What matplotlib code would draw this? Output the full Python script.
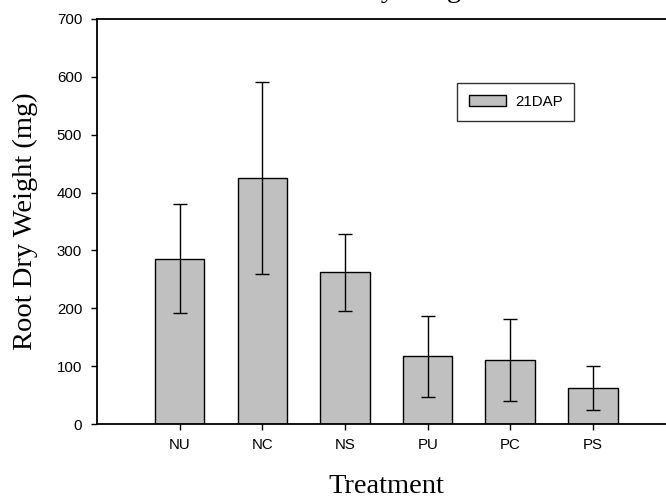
import matplotlib
matplotlib.use("Agg")
import matplotlib.pyplot as plt
import numpy as np

categories = ["NU", "NC", "NS", "PU", "PC", "PS"]
values = [286, 425, 262, 117, 111, 62]
errors = [94, 166, 67, 70, 71, 38]
series_label = "21DAP"
yticks = [0, 100, 200, 300, 400, 500, 600, 700]

W, H = 666, 499
fig = plt.figure(figsize=(W / 100, H / 100), dpi=100)

left, right, top, bottom = 97, 675.6, 19, 424
ax = fig.add_axes([left / W, (H - bottom) / H, (right - left) / W, (bottom - top) / H])

x = np.arange(len(categories))
ax.bar(x, values, width=0.6, color="#c0c0c0", edgecolor="black",
       linewidth=1.0, label=series_label, zorder=2)
ax.errorbar(x, values, yerr=errors, fmt="none", ecolor="black",
            elinewidth=1.0, capsize=5, capthick=1.0, zorder=3)

ax.set_xlim(-1.0, 6.0)
ax.set_ylim(0, 700)
ax.set_yticks(yticks)
ax.set_xticks(x)
ax.set_xticklabels(categories)

for lbl in ax.get_xticklabels() + ax.get_yticklabels():
    lbl.set_fontfamily("Liberation Sans")
    lbl.set_fontsize(10.8)

ax.tick_params(axis="both", direction="out", length=4.2, width=1.0, color="black")
ax.tick_params(axis="x", pad=6)
ax.tick_params(axis="y", pad=6.5)
for s in ax.spines.values():
    s.set_linewidth(1.3)
    s.set_color("black")

serif = dict(family="Liberation Serif", size=20.5)
fig.text(25 / W, 1 - (221.5 / H), "Root Dry Weight (mg)", rotation=90,
         ha="center", va="center", fontdict=serif)
fig.text(386 / W, 1 - (493 / H), "Treatment", ha="center", va="baseline", fontdict=serif)
fig.text(386 / W, 1 + 3 / H, "Root Dry Weight", ha="center", va="baseline", fontdict=serif)

leg = ax.legend(loc="upper left", bbox_to_anchor=(457 / W, 1 - 83 / H),
                bbox_transform=fig.transFigure, prop=dict(family="Liberation Sans", size=10.8),
                frameon=True, fancybox=False, shadow=False, borderpad=0.8,
                handlelength=2.45, handleheight=0.75, handletextpad=0.6,
                borderaxespad=0)
leg.get_frame().set_edgecolor("black")
leg.get_frame().set_linewidth(1.0)

fig.savefig("out.png", dpi=100)
